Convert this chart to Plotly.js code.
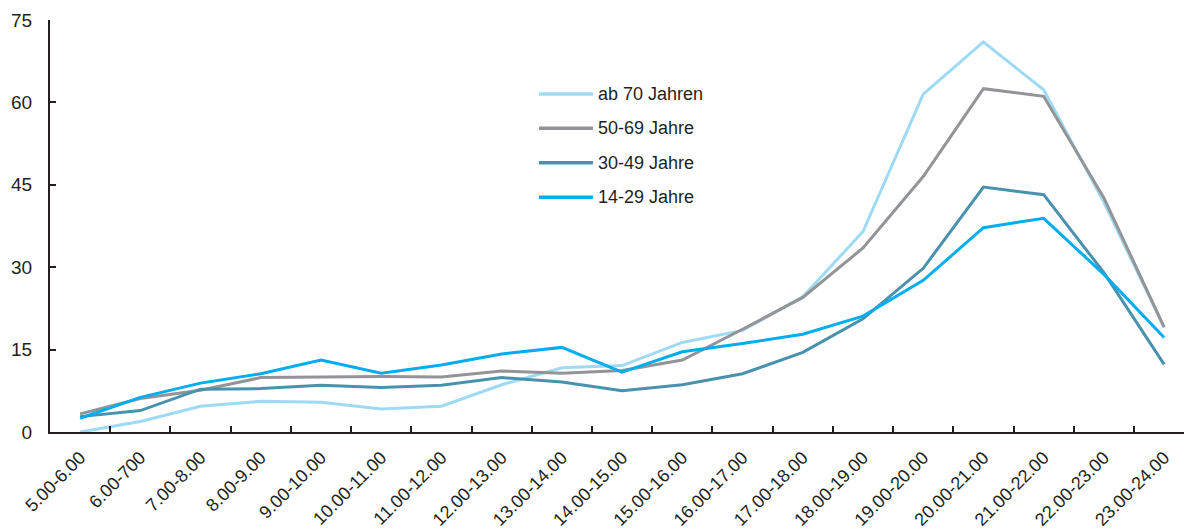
<!DOCTYPE html>
<html>
<head>
<meta charset="utf-8">
<script src="https://cdn.plot.ly/plotly-3.0.1.min.js"></script>
<style>
html,body{margin:0;padding:0;background:#fff;}
#chart{width:1184px;height:530px;}
</style>
</head>
<body>
<div id="chart"></div>
<script>
const categories = ["5.00-6.00","6.00-700","7.00-8.00","8.00-9.00","9.00-10.00","10.00-11.00","11.00-12.00","12.00-13.00","13.00-14.00","14.00-15.00","15.00-16.00","16.00-17.00","17.00-18.00","18.00-19.00","19.00-20.00","20.00-21.00","21.00-22.00","22.00-23.00","23.00-24.00"];
const seriesNames = ["ab 70 Jahren","50-69 Jahre","30-49 Jahre","14-29 Jahre"];
const ab70 =   [0.0, 1.9, 4.7, 5.6, 5.4, 4.2, 4.7, 8.6, 11.7, 12.1, 16.3, 18.5, 24.6, 36.5, 61.5, 71.0, 62.3, 41.8, 19.0];
const a50_69 = [3.3, 6.1, 7.6, 9.9, 10.0, 10.1, 10.0, 11.1, 10.7, 11.2, 13.1, 18.7, 24.5, 33.5, 46.5, 62.5, 61.1, 42.6, 19.1];
const a30_49 = [2.8, 3.9, 7.8, 7.9, 8.5, 8.1, 8.5, 9.9, 9.1, 7.5, 8.6, 10.6, 14.5, 20.6, 29.8, 44.6, 43.2, 29.0, 12.3];
const a14_29 = [2.5, 6.3, 8.9, 10.6, 13.1, 10.7, 12.2, 14.2, 15.4, 10.9, 14.6, 16.1, 17.8, 21.1, 27.6, 37.2, 38.9, 28.7, 17.2];
const yTicks = [0, 15, 30, 45, 60, 75];

const seriesValues = [ab70, a50_69, a30_49, a14_29];
const colors = ["#9fdaf5", "#929497", "#4892ae", "#00aeef"];
const FONT = "'Liberation Sans', Arial, sans-serif";
const TXT = "#231f20";

const traces = seriesValues.map((vals, i) => ({
  type: "scatter",
  mode: "lines",
  name: seriesNames[i],
  x: categories,
  y: vals,
  line: {color: colors[i], width: 3},
  showlegend: false,
  hoverinfo: "x+y+name"
}));

// custom legend (long line samples like the reference)
const legY = [0.8204, 0.7371, 0.6536, 0.5697];
const shapes = seriesNames.map((n, i) => ({
  type: "line", xref: "paper", yref: "paper",
  x0: 0.4312, x1: 0.4788, y0: legY[i], y1: legY[i],
  line: {color: colors[i], width: 3.5}
}));
const annotations = seriesNames.map((n, i) => ({
  xref: "paper", yref: "paper", x: 0.4815, y: legY[i],
  xanchor: "left", yanchor: "middle", showarrow: false,
  text: n, font: {family: FONT, size: 18, color: TXT}
}));

const layout = {
  width: 1184, height: 530,
  margin: {l: 50, r: 0, t: 20, b: 98},
  paper_bgcolor: "#ffffff",
  plot_bgcolor: "#ffffff",
  font: {family: FONT, size: 18, color: TXT},
  showlegend: false,
  xaxis: {
    type: "category",
    range: [-0.5, 18.33],
    showgrid: false, zeroline: false,
    showline: true, linecolor: TXT, linewidth: 2,
    ticks: "inside", ticklen: 6, tickwidth: 2, tickcolor: TXT,
    tickson: "boundaries",
    tickangle: -45,
    tickfont: {family: FONT, size: 18, color: TXT},
    ticklabelstandoff: 6
  },
  yaxis: {
    range: [0, 75],
    tickmode: "array", tickvals: yTicks, ticktext: yTicks.map(String),
    showgrid: false, zeroline: false,
    showline: true, linecolor: TXT, linewidth: 2,
    ticks: "inside", ticklen: 6, tickwidth: 2, tickcolor: TXT,
    tickfont: {family: FONT, size: 19, color: TXT},
    ticklabelstandoff: 12
  },
  shapes: shapes,
  annotations: annotations
};

Plotly.newPlot("chart", traces, layout, {displayModeBar: false, staticPlot: true});
</script>
</body>
</html>
